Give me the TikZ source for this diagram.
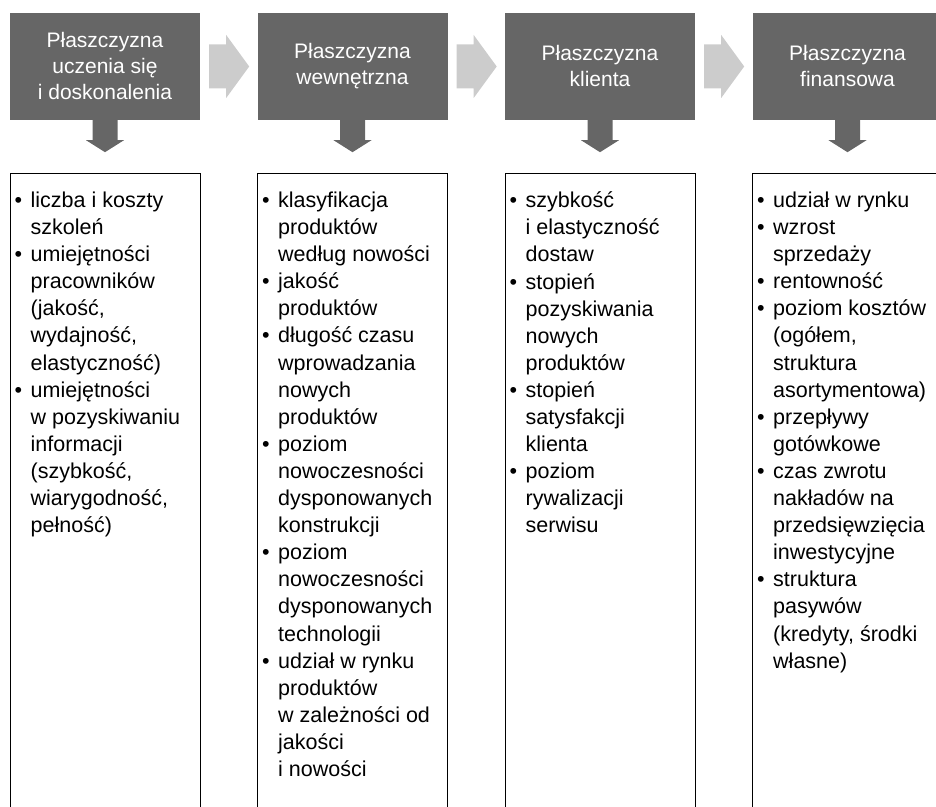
\documentclass[tikz,border=0pt]{standalone}
\usepackage{fontspec}
\setmainfont{Liberation Sans}
\usepackage{xcolor}
\usetikzlibrary{calc,positioning}
\definecolor{planex}{HTML}{666666}
\definecolor{flowx}{HTML}{CCCCCC}
\tikzset{
  plane/.style={fill=planex,text=white,minimum width=190pt,minimum height=107pt,align=center,inner sep=0pt,font=\fontsize{21}{26}\selectfont},
  listbox/.style={draw=black,line width=1pt,minimum width=190pt,minimum height=660pt,inner sep=0pt},
  itemtext/.style={anchor=north west,align=left,inner sep=0pt,font=\fontsize{21.5}{27.1}\selectfont},
  flowar/.style={fill=flowx},
  downar/.style={fill=planex}
}
\newcommand{\bu}{\makebox[16pt][l]{\textbullet}}
\newcommand{\ind}{\hspace*{16pt}}

\begin{document}
\begin{tikzpicture}[x=1pt,y=1pt]
\useasboundingbox (0,0) rectangle (936,806);
\clip (0,0) rectangle (936,806);
\node[plane] (p1) at (105,739.5) {Płaszczyzna\\uczenia się\\i doskonalenia};
\node[plane] (p2) at (352.5,739.5) {Płaszczyzna\\wewnętrzna};
\node[plane] (p3) at (600,739.5) {Płaszczyzna\\klienta};
\node[plane] (p4) at (847.5,739.5) {Płaszczyzna\\finansowa};
\fill[flowar] ($(p1.east)+(9,22)$) -- ++(17,0) -- ++(0,9.5) -- ++(23,-31.5) -- ++(-23,-31.5) -- ++(0,9.5) -- ++(-17,0) -- cycle;
\fill[flowar] ($(p2.east)+(9,22)$) -- ++(17,0) -- ++(0,9.5) -- ++(23,-31.5) -- ++(-23,-31.5) -- ++(0,9.5) -- ++(-17,0) -- cycle;
\fill[flowar] ($(p3.east)+(9,22)$) -- ++(17,0) -- ++(0,9.5) -- ++(23,-31.5) -- ++(-23,-31.5) -- ++(0,9.5) -- ++(-17,0) -- cycle;
\node[listbox,below=53pt of p1] (l1) {};
\node[listbox,below=53pt of p2] (l2) {};
\node[listbox,below=53pt of p3] (l3) {};
\node[listbox,below=53pt of p4] (l4) {};
\fill[downar] ($(p1.south)+(-12.5,0)$) -- ++(0,-20) -- ++(-6.5,0) -- ++(19,-12) -- ++(19,12) -- ++(-6.5,0) -- ++(0,20) -- cycle;
\fill[downar] ($(p2.south)+(-12.5,0)$) -- ++(0,-20) -- ++(-6.5,0) -- ++(19,-12) -- ++(19,12) -- ++(-6.5,0) -- ++(0,20) -- cycle;
\fill[downar] ($(p3.south)+(-12.5,0)$) -- ++(0,-20) -- ++(-6.5,0) -- ++(19,-12) -- ++(19,12) -- ++(-6.5,0) -- ++(0,20) -- cycle;
\fill[downar] ($(p4.south)+(-12.5,0)$) -- ++(0,-20) -- ++(-6.5,0) -- ++(19,-12) -- ++(19,12) -- ++(-6.5,0) -- ++(0,20) -- cycle;
\node[itemtext] (t1) at ($(l1.north west)+(5,-18.5)$) {\bu liczba i koszty\\ \ind szkoleń\\ \bu umiejętności\\ \ind pracowników\\ \ind (jakość,\\ \ind wydajność,\\ \ind elastyczność)\\ \bu umiejętności\\ \ind w pozyskiwaniu\\ \ind informacji\\ \ind (szybkość,\\ \ind wiarygodność,\\ \ind pełność)};
\node[itemtext] (t2) at ($(l2.north west)+(5,-18.5)$) {\bu klasyfikacja\\ \ind produktów\\ \ind według nowości\\ \bu jakość\\ \ind produktów\\ \bu długość czasu\\ \ind wprowadzania\\ \ind nowych\\ \ind produktów\\ \bu poziom\\ \ind nowoczesności\\ \ind dysponowanych\\ \ind konstrukcji\\ \bu poziom\\ \ind nowoczesności\\ \ind dysponowanych\\ \ind technologii\\ \bu udział w rynku\\ \ind produktów\\ \ind w zależności od\\ \ind jakości\\ \ind i nowości};
\node[itemtext] (t3) at ($(l3.north west)+(5,-18.5)$) {\bu szybkość\\ \ind i elastyczność\\ \ind dostaw\\ \bu stopień\\ \ind pozyskiwania\\ \ind nowych\\ \ind produktów\\ \bu stopień\\ \ind satysfakcji\\ \ind klienta\\ \bu poziom\\ \ind rywalizacji\\ \ind serwisu};
\node[itemtext] (t4) at ($(l4.north west)+(5,-18.5)$) {\bu udział w rynku\\ \bu wzrost\\ \ind sprzedaży\\ \bu rentowność\\ \bu poziom kosztów\\ \ind (ogółem,\\ \ind struktura\\ \ind asortymentowa)\\ \bu przepływy\\ \ind gotówkowe\\ \bu czas zwrotu\\ \ind nakładów na\\ \ind przedsięwzięcia\\ \ind inwestycyjne\\ \bu struktura\\ \ind pasywów\\ \ind (kredyty, środki\\ \ind własne)};
\end{tikzpicture}
\end{document}
